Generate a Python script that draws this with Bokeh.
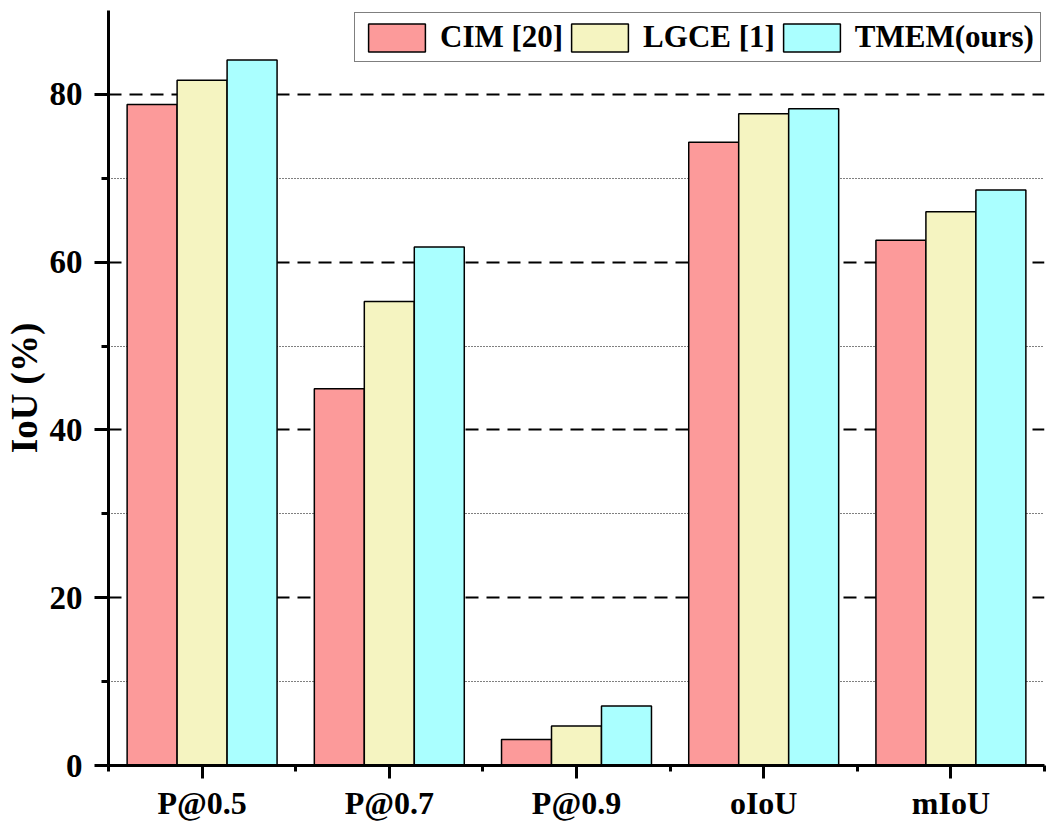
import numpy as np
from bokeh.plotting import figure
from bokeh.models import (ColumnDataSource, Range1d, FixedTicker, Legend, LegendItem)
from bokeh.transform import dodge
from bokeh.embed import file_html
from bokeh.resources import INLINE

categories = ["P@0.5", "P@0.7", "P@0.9", "oIoU", "mIoU"]
series_names = ["CIM [20]", "LGCE [1]", "TMEM(ours)"]
cim = [78.8, 44.9, 3.1, 74.3, 62.6]
lgce = [81.7, 55.3, 4.7, 77.7, 66.0]
tmem = [84.1, 61.8, 7.1, 78.3, 68.6]
colors = ["#FC9A9A", "#F5F4C1", "#AAFFFF"]
y_major = [0, 20, 40, 60, 80]
y_minor = [10, 30, 50, 70]

FONT = "Liberation Serif"

pos = np.arange(len(categories)) + 0.5
src = ColumnDataSource(dict(x=pos, cim=cim, lgce=lgce, tmem=tmem))

p = figure(width=1055, height=825, output_backend="svg", toolbar_location=None,
           x_range=Range1d(0, len(categories)), y_range=Range1d(0, 90),
           min_border_left=107, min_border_right=11, min_border_top=10, min_border_bottom=60)
p.outline_line_color = None
p.xgrid.visible = False

bw = 0.267
renderers = []
for off, col, c in zip([-bw, 0, bw], ["cim", "lgce", "tmem"], colors):
    r = p.vbar(x=dodge("x", off, range=p.x_range), top=col, width=bw, bottom=0,
               source=src, fill_color=c, line_color="black", line_width=1.5)
    renderers.append(r)

# y axis
p.yaxis.ticker = FixedTicker(ticks=y_major, minor_ticks=y_minor)
p.yaxis.axis_line_width = 3
p.yaxis.major_tick_line_width = 3
p.yaxis.minor_tick_line_width = 3
p.yaxis.major_tick_out = 14
p.yaxis.major_tick_in = 0
p.yaxis.minor_tick_out = 7
p.yaxis.minor_tick_in = 0
p.yaxis.major_label_text_font = FONT
p.yaxis.major_label_text_font_style = "bold"
p.yaxis.major_label_text_font_size = "33px"
p.yaxis.major_label_text_color = "black"
p.yaxis.major_label_standoff = 12
p.yaxis.axis_label = "IoU (%)"
p.yaxis.axis_label_text_font = FONT
p.yaxis.axis_label_text_font_style = "bold"
p.yaxis.axis_label_text_font_size = "37px"
p.yaxis.axis_label_text_color = "black"
p.yaxis.axis_label_standoff = 2

# x axis
p.xaxis.ticker = FixedTicker(ticks=list(pos), minor_ticks=list(range(len(categories) + 1)))
p.xaxis.major_label_overrides = {float(v): c for v, c in zip(pos, categories)}
p.xaxis.axis_line_width = 3
p.xaxis.major_tick_line_width = 3
p.xaxis.minor_tick_line_width = 3
p.xaxis.major_tick_out = 13
p.xaxis.major_tick_in = 0
p.xaxis.minor_tick_out = 6
p.xaxis.minor_tick_in = 0
p.xaxis.major_label_text_font = FONT
p.xaxis.major_label_text_font_style = "bold"
p.xaxis.major_label_text_font_size = "32px"
p.xaxis.major_label_text_color = "black"
p.xaxis.major_label_standoff = 6

# grid
p.ygrid.ticker = FixedTicker(ticks=y_major, minor_ticks=y_minor)
p.ygrid.grid_line_color = "black"
p.ygrid.grid_line_width = 2
p.ygrid.grid_line_dash = "13 8"
p.ygrid.minor_grid_line_color = "black"
p.ygrid.minor_grid_line_width = 1
p.ygrid.minor_grid_line_dash = "1 2"
p.ygrid.level = "underlay"

legend = Legend(items=[LegendItem(label=n, renderers=[r]) for n, r in zip(series_names, renderers)],
                orientation="horizontal", location=(246, 703),
                glyph_width=71, glyph_height=35, label_height=35,
                label_standoff=8, spacing=1, padding=6, margin=0,
                label_text_font=FONT, label_text_font_style="bold",
                label_text_font_size="31px", label_text_color="black",
                border_line_color="black", border_line_width=1.2,
                background_fill_color="white", background_fill_alpha=1)
p.add_layout(legend, "center")

open("out.html", "w").write(file_html(p, INLINE))
